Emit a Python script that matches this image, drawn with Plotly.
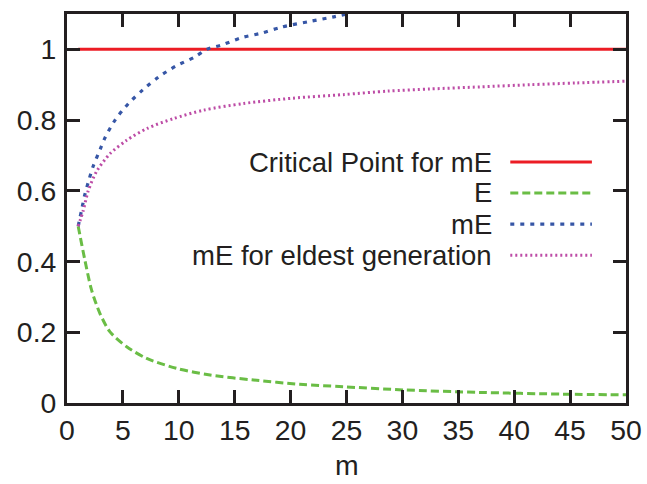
import plotly.graph_objects as go

# ---- data ----
crit_m = [1, 50]
crit_v = [1.0, 1.0]

e_m = [1, 1.6, 2.2, 2.95, 3.85, 5.34, 7.13, 9.8, 12.8, 16.7, 20.8, 24.7, 30.1, 36.9, 44.4, 50]
e_v = [0.5, 0.404, 0.319, 0.253, 0.201, 0.159, 0.126, 0.098, 0.079, 0.065, 0.053, 0.046, 0.037, 0.030, 0.025, 0.023]

me_m = [1, 1.3, 1.6, 2.0, 2.35, 3.0, 3.4, 4.3, 5.5, 6.8, 8.2, 9.75, 11.4, 12.5, 13.9, 15.6, 17.4, 19.2, 21.9, 23.7, 25]
me_v = [0.5, 0.545, 0.59, 0.635, 0.67, 0.72, 0.75, 0.80, 0.847, 0.886, 0.922, 0.953, 0.978, 1.0, 1.013, 1.033, 1.046, 1.063, 1.08, 1.091, 1.1]

old_m = [1, 1.46, 1.9, 2.65, 3.85, 5.34, 7.13, 9.5, 12.2, 15.8, 20.2, 24.7, 28.7, 32.5, 37, 41.4, 45.5, 50]
old_v = [0.5, 0.545, 0.60, 0.655, 0.705, 0.743, 0.776, 0.804, 0.828, 0.847, 0.862, 0.872, 0.882, 0.888, 0.894, 0.90, 0.905, 0.91]

x_ticks = [0, 5, 10, 15, 20, 25, 30, 35, 40, 45, 50]
y_ticks = [0, 0.2, 0.4, 0.6, 0.8, 1]
y_tick_text = ["0", "0.2", "0.4", "0.6", "0.8", "1"]

names = ["Critical Point for mE", "E", "mE", "mE for eldest generation"]
colors = ["#ec1c24", "#6abd45", "#3656a6", "#bd4ca6"]
dashes = ["solid", "8px,4px", "4px,6px", "2px,3px"]
widths = [3, 3, 3.2, 3]

FONT = "Liberation Sans, Arial, sans-serif"
FS = 28.4
LEG_FS = 27.5
INK = "#231f20"

fig = go.Figure()
series = [(crit_m, crit_v), (e_m, e_v), (me_m, me_v), (old_m, old_v)]
for (xs, ys), n, c, d, w in zip(series, names, colors, dashes, widths):
    fig.add_trace(go.Scatter(x=xs, y=ys, mode="lines", name=n,
                             line=dict(color=c, dash=d, width=w, shape="spline", smoothing=0.8),
                             showlegend=False))

# manual gnuplot-style legend (text right, sample on right)
row_y = [0.6195, 0.540, 0.460, 0.380]
for n, c, d, w, yy in zip(names, colors, dashes, widths, row_y):
    fig.add_annotation(xref="paper", yref="paper", x=0.763, y=yy, text=n, showarrow=False,
                       xanchor="right", yanchor="middle",
                       font=dict(family=FONT, size=LEG_FS, color=INK))
    fig.add_shape(type="line", xref="paper", yref="paper", x0=0.793, x1=0.939, y0=yy, y1=yy,
                  line=dict(color=c, dash=d, width=w))

# x-axis title
fig.add_annotation(xref="paper", yref="paper", x=0.5, y=-0.2035, text="m", showarrow=False,
                   xanchor="center", yanchor="bottom", borderpad=0,
                   font=dict(family=FONT, size=FS, color=INK))

axis_common = dict(showline=True, linecolor=INK, linewidth=3, mirror="ticks",
                   ticks="inside", ticklen=13, tickwidth=2.5, tickcolor=INK,
                   showgrid=False, zeroline=False, automargin=False,
                   tickfont=dict(family=FONT, size=FS, color=INK))

fig.update_xaxes(range=[0, 50], tickvals=x_ticks, ticktext=[str(v) for v in x_ticks],
                 ticklabelstandoff=0, **axis_common)
fig.update_yaxes(range=[0, 1.1], tickvals=y_ticks, ticktext=y_tick_text, ticklabelstandoff=2,
                 **axis_common)

fig.update_layout(width=647, height=484, margin=dict(l=67, r=21, t=14, b=81),
                  plot_bgcolor="white", paper_bgcolor="white")

fig.write_html("out.html")
